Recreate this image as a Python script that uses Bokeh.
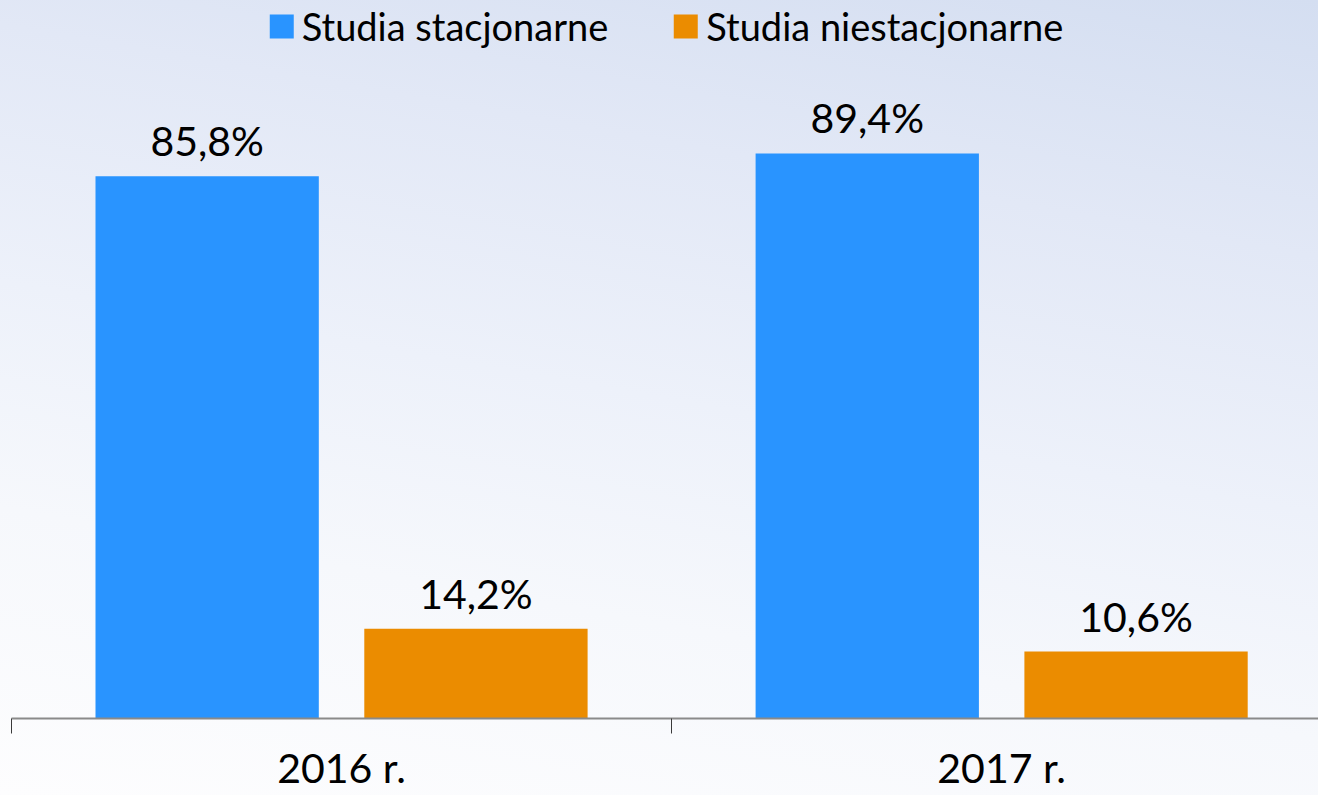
from bokeh.plotting import figure
from bokeh.models import (Range1d, LinearAxis, FixedTicker, ColumnDataSource,
                          LabelSet, Legend, LegendItem, InlineStyleSheet)
from bokeh.transform import dodge
from bokeh.core.properties import value
from bokeh.embed import file_html
from bokeh.resources import INLINE

# ---- data ----
years = ["2016 r.", "2017 r."]
series_names = ["Studia stacjonarne", "Studia niestacjonarne"]
stacjonarne = [85.8, 89.4]
niestacjonarne = [14.2, 10.6]

FONT = "Lato"
BLUE = "#2994FF"
ORANGE = "#EB8C00"


def fmt(v):
    return f"{v:.1f}".replace(".", ",") + "%"


xs = [i + 0.5 for i in range(len(years))]
src = ColumnDataSource(dict(
    x=xs, year=years, s=stacjonarne, n=niestacjonarne,
    s_lbl=[fmt(v) for v in stacjonarne],
    n_lbl=[fmt(v) for v in niestacjonarne],
))

p = figure(width=1318, height=795, output_backend="svg", toolbar_location=None,
           x_range=Range1d(0, 1.980), y_range=Range1d(0, 113.6),
           x_axis_type=None, y_axis_type=None,
           min_border_left=11, min_border_right=0, min_border_top=0,
           min_border_bottom=77, outline_line_color=None,
           background_fill_alpha=0, border_fill_alpha=0)
p.stylesheets = [InlineStyleSheet(css=":host { background: linear-gradient(190deg, "
                                      "#d4def1 0%, #e2e8f6 25%, #edf1fa 50%, "
                                      "#f6f8fc 72%, #fdfdfe 100%); }")]

OFF = 0.2036
W = 0.3383
r1 = p.vbar(x=dodge("x", -OFF), top="s", width=W, source=src,
            fill_color=BLUE, line_color=None)
r2 = p.vbar(x=dodge("x", OFF), top="n", width=W, source=src,
            fill_color=ORANGE, line_color=None)

for xcol, ycol, tcol in ((dodge("x", -OFF), "s", "s_lbl"), (dodge("x", OFF), "n", "n_lbl")):
    p.add_layout(LabelSet(x=xcol, y=ycol, text=tcol, source=src, y_offset=20,
                          text_align="center", text_baseline="alphabetic",
                          text_font=value(FONT), text_font_size="41px",
                          text_color="#000000"))

ax = LinearAxis(ticker=FixedTicker(ticks=xs, minor_ticks=list(range(len(years) + 1))),
                major_tick_line_color=None, major_tick_out=0, major_tick_in=0,
                major_label_overrides={v: lbl for v, lbl in zip(xs, years)},
                major_label_standoff=9,
                major_label_text_font=FONT, major_label_text_font_size="41px",
                major_label_text_color="#000000",
                minor_tick_out=15, minor_tick_in=0,
                minor_tick_line_color="#3a3a3a", minor_tick_line_width=1,
                axis_line_color="#8a8a8a", axis_line_width=2)
p.add_layout(ax, "below")

legend = Legend(items=[LegendItem(label=series_names[0], renderers=[r1]),
                       LegendItem(label=series_names[1], renderers=[r2])],
                orientation="horizontal", location="top_center",
                glyph_width=30, glyph_height=30, label_standoff=6, spacing=62,
                label_text_font=FONT, label_text_font_size="38px",
                label_text_color="#000000",
                background_fill_alpha=0, border_line_color=None,
                margin=3, padding=0)
p.add_layout(legend, "center")

open("out.html", "w").write(file_html(p, INLINE))
